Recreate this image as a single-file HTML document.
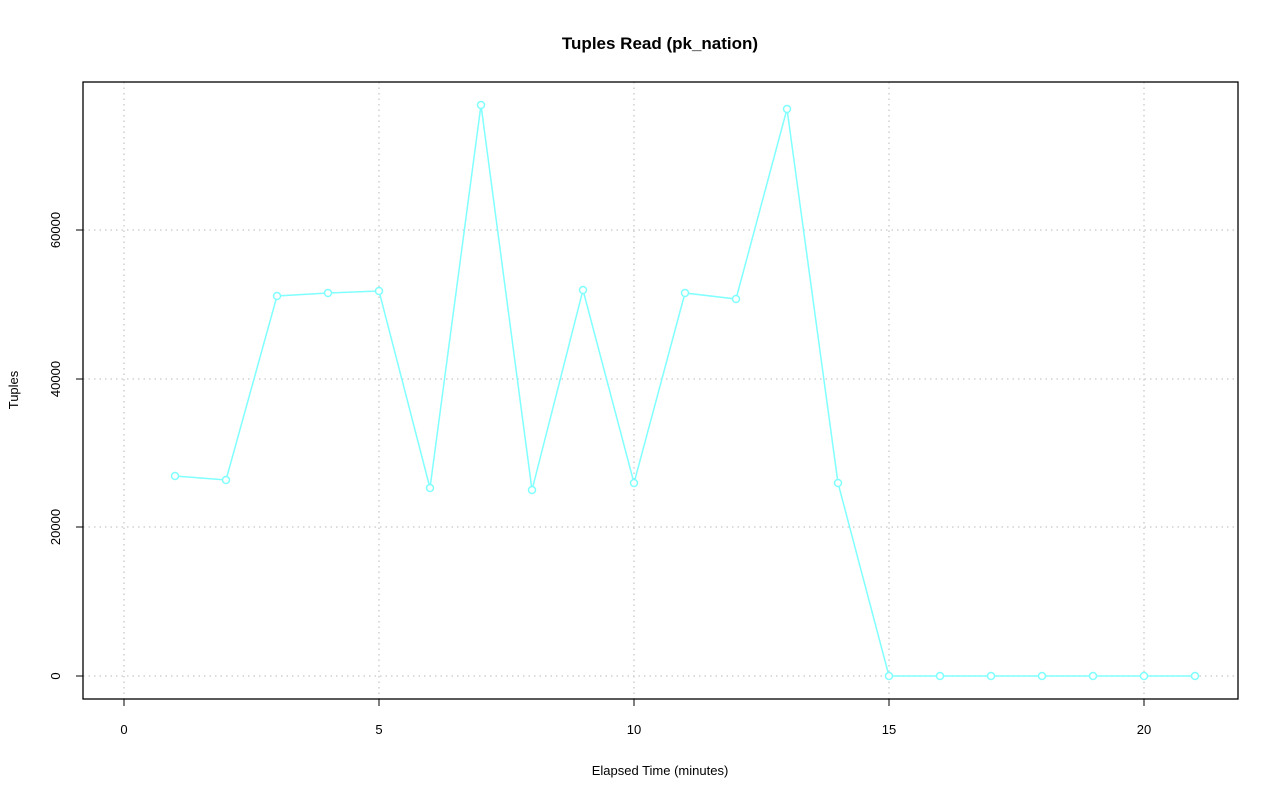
<!DOCTYPE html>
<html><head><style>body{margin:0;background:#fff}</style></head><body>
<svg width="1280" height="801" xmlns="http://www.w3.org/2000/svg" font-family="Liberation Sans, sans-serif">
<rect width="1280" height="801" fill="#fff"/>
<text x="660" y="49" text-anchor="middle" font-size="17" font-weight="bold">Tuples Read (pk_nation)</text>
<g stroke="#c8c8c8" stroke-dasharray="1.5,4" stroke-width="1.3">
<line x1="124" y1="82" x2="124" y2="699"/><line x1="379" y1="82" x2="379" y2="699"/><line x1="634" y1="82" x2="634" y2="699"/><line x1="889" y1="82" x2="889" y2="699"/><line x1="1144" y1="82" x2="1144" y2="699"/>
<line x1="83" y1="676" x2="1238" y2="676"/><line x1="83" y1="527" x2="1238" y2="527"/><line x1="83" y1="379" x2="1238" y2="379"/><line x1="83" y1="230" x2="1238" y2="230"/>
</g>
<rect x="83" y="82" width="1155" height="617" fill="none" stroke="#000" stroke-width="1.3"/>
<g stroke="#000" stroke-width="1">
<line x1="124" y1="699" x2="124" y2="706"/><line x1="379" y1="699" x2="379" y2="706"/><line x1="634" y1="699" x2="634" y2="706"/><line x1="889" y1="699" x2="889" y2="706"/><line x1="1144" y1="699" x2="1144" y2="706"/>
<line x1="83" y1="676" x2="76" y2="676"/><line x1="83" y1="527" x2="76" y2="527"/><line x1="83" y1="379" x2="76" y2="379"/><line x1="83" y1="230" x2="76" y2="230"/>
</g>
<g font-size="13" text-anchor="middle">
<text x="124" y="734">0</text><text x="379" y="734">5</text><text x="634" y="734">10</text><text x="889" y="734">15</text><text x="1144" y="734">20</text>
<text transform="translate(60,676) rotate(-90)">0</text>
<text transform="translate(60,527) rotate(-90)">20000</text>
<text transform="translate(60,379) rotate(-90)">40000</text>
<text transform="translate(60,230) rotate(-90)">60000</text>
<text x="660" y="775">Elapsed Time (minutes)</text>
<text transform="translate(18,390) rotate(-90)">Tuples</text>
</g>
<polyline fill="none" stroke="#80ffff" stroke-width="1.5" points="175,476 226,480 277,296 328,293 379,291 430,488 481,105 532,490 583,290 634,483 685,293 736,299 787,109 838,483 889,676 940,676 991,676 1042,676 1093,676 1144,676 1195,676"/>
<g fill="#fff" stroke="#80ffff" stroke-width="1.5">
<circle cx="175" cy="476" r="3.5"/><circle cx="226" cy="480" r="3.5"/><circle cx="277" cy="296" r="3.5"/><circle cx="328" cy="293" r="3.5"/><circle cx="379" cy="291" r="3.5"/><circle cx="430" cy="488" r="3.5"/><circle cx="481" cy="105" r="3.5"/><circle cx="532" cy="490" r="3.5"/><circle cx="583" cy="290" r="3.5"/><circle cx="634" cy="483" r="3.5"/><circle cx="685" cy="293" r="3.5"/><circle cx="736" cy="299" r="3.5"/><circle cx="787" cy="109" r="3.5"/><circle cx="838" cy="483" r="3.5"/><circle cx="889" cy="676" r="3.5"/><circle cx="940" cy="676" r="3.5"/><circle cx="991" cy="676" r="3.5"/><circle cx="1042" cy="676" r="3.5"/><circle cx="1093" cy="676" r="3.5"/><circle cx="1144" cy="676" r="3.5"/><circle cx="1195" cy="676" r="3.5"/>
</g>
</svg>
</body></html>
